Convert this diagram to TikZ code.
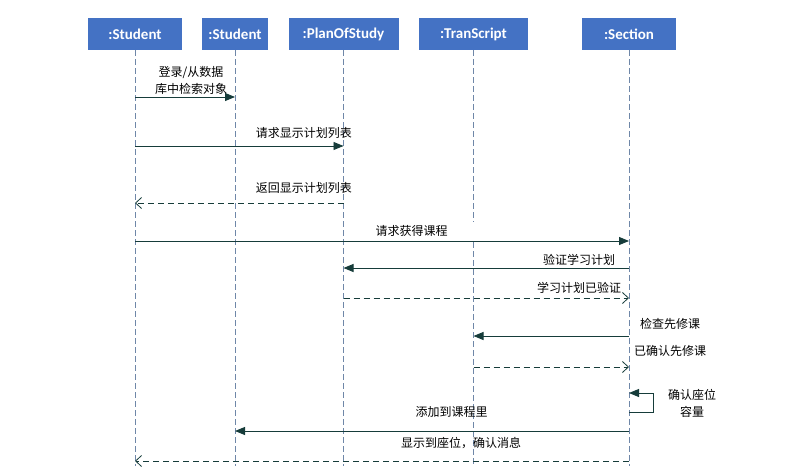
\documentclass[tikz,border=0pt]{standalone}
\usepackage{fontspec}
\newfontfamily\cjk{Noto Sans CJK SC}
\newfontfamily\hdr{Carlito}
\usetikzlibrary{arrows.meta, positioning}
\definecolor{objblue}{HTML}{4472C4}
\definecolor{lifegray}{HTML}{6F87A8}
\definecolor{msgteal}{HTML}{163C3A}

\begin{document}
\begin{tikzpicture}[x=1pt,y=-1pt,
  obj/.style={fill=objblue,text=white,font=\hdr\bfseries\fontsize{15}{17}\selectfont,
    minimum height=32pt,inner sep=0pt},
  life/.style={draw=lifegray,dash pattern=on 6pt off 3pt,line width=0.7pt},
  call/.style={draw=msgteal,line width=0.9pt,-{Triangle[length=10pt,width=8pt]}},
  reply/.style={draw=msgteal,line width=0.8pt,dash pattern=on 6pt off 4pt,
    -{Straight Barb[length=6pt,width=11pt]}},
  lbl/.style={font=\cjk\fontsize{12}{17}\selectfont,text=black,inner sep=0pt,align=center}]
\useasboundingbox (0,0) rectangle (796,469);

% objects
\node[obj,minimum width=94pt]  (stu)  at (135,34)   {:Student};
\node[obj,minimum width=66pt]  (stud) at (235,34)   {:Student};
\node[obj,minimum width=110pt] (plan) at (343.5,34) {:PlanOfStudy};
\node[obj,minimum width=109pt] (tran) at (473.5,34) {:TranScript};
\node[obj,minimum width=94pt]  (sec)  at (629,34)   {:Section};

% message rows
\foreach \n/\y in {1/97,2/146,3/203,4/241,5/268,6/298,7/336,8/367,9a/393,9/403,9b/412,10/431,11/461}
  \coordinate (r\n) at (0,\y);
\coordinate (bot) at (0,466);
\coordinate (gapA) at (0,222);
\coordinate (gapB) at (0,242);
\coordinate (loopx) at (653,0);

% lifelines
\draw[life] (stu.south) -- (stu |- bot);
\draw[life] (stud.south) -- (stud |- bot);
\draw[life] (plan.south) -- (plan |- bot);
\draw[life] (tran.south) -- (tran |- gapA);
\draw[life] (tran |- gapB) -- (tran |- bot);
\draw[life] (sec.south) -- (sec |- bot);

% messages
\draw[call] (stu |- r1) -- node[lbl,above=2pt,pos=0.56] {登录/从数据\\库中检索对象} (stud |- r1);
\draw[call] (stu |- r2) -- node[lbl,above=7pt,pos=0.81] {请求显示计划列表} (plan |- r2);
\draw[reply] (plan |- r3) -- node[lbl,above=9pt,pos=0.19] {返回显示计划列表} (stu |- r3);
\draw[call] (stu |- r4) -- node[lbl,above=4pt,pos=0.56] {请求获得课程} (sec |- r4);
\draw[call] (sec |- r5) -- node[lbl,above=2pt,pos=0.175] {验证学习计划} (plan |- r5);
\draw[reply] (plan |- r6) -- node[lbl,above=4pt,pos=0.825] {学习计划已验证} (sec |- r6);
\draw[call] (sec |- r7) -- node[lbl,above=6pt,pos=-0.265] {检查先修课} (tran |- r7);
\draw[reply] (tran |- r8) -- node[lbl,above=10pt,pos=1.265] {已确认先修课} (sec |- r8);
\draw[call] (sec |- r9b) -- (loopx |- r9b) -- (loopx |- r9a) -- (sec |- r9a);
\node[lbl,xshift=39pt] (seatcap) at (loopx |- r9) {确认座位\\容量};
\draw[call] (sec |- r10) -- node[lbl,above=13pt,pos=0.45] {添加到课程里} (stud |- r10);
\draw[reply] (sec |- r11) -- node[lbl,above=12pt,pos=0.34] {显示到座位，确认消息} (stu |- r11);
\end{tikzpicture}
\end{document}
